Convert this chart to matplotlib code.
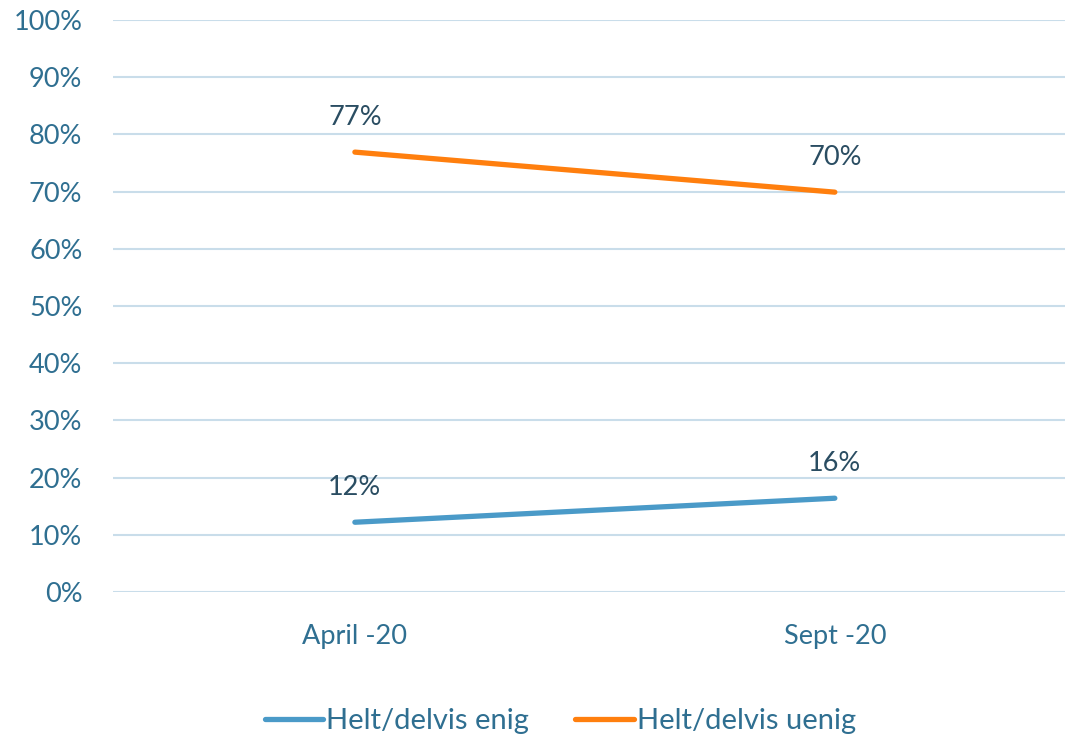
import matplotlib.pyplot as plt
from matplotlib.ticker import PercentFormatter

categories = ["April -20", "Sept -20"]
enig = [12.2, 16.4]
uenig = [76.9, 69.9]
enig_labels = ["12%", "16%"]
uenig_labels = ["77%", "70%"]

plt.rcParams['font.family'] = ['Lato', 'DejaVu Sans']

tick_col = "#2F6F91"
lab_col = "#2A4D62"

fig = plt.figure(figsize=(10.69, 7.37), dpi=100)
ax = fig.add_axes([0.1057, 0.1967, 0.8903, 0.7762])

x = list(range(len(categories)))
ax.plot(x, enig, color="#4A9AC8", lw=3.8, solid_capstyle="round", label="Helt/delvis enig")
ax.plot(x, uenig, color="#FF7F0E", lw=3.8, solid_capstyle="round", label="Helt/delvis uenig")

for xi, v, t in zip(x, enig, enig_labels):
    ax.annotate(t, (xi, v), xytext=(0, 25), textcoords="offset points",
                ha="center", va="center", fontsize=19.5, color=lab_col)
for xi, v, t in zip(x, uenig, uenig_labels):
    ax.annotate(t, (xi, v), xytext=(0, 25), textcoords="offset points",
                ha="center", va="center", fontsize=19.5, color=lab_col)

ax.set_xlim(-0.504, 1.479)
ax.set_ylim(0, 100)
ax.set_yticks(range(0, 101, 10))
ax.yaxis.set_major_formatter(PercentFormatter(decimals=0))
ax.set_xticks(x)
ax.set_xticklabels(categories)
ax.grid(axis="y", color="#C9DDEA", lw=1.5)
ax.set_axisbelow(True)
for s in ax.spines.values():
    s.set_visible(False)
ax.tick_params(length=0, labelsize=19.5, colors=tick_col)
ax.tick_params(axis="x", pad=23)
ax.tick_params(axis="y", pad=22)

leg = fig.legend(loc="center", bbox_to_anchor=(0.524, 0.022), ncol=2, frameon=False,
                 fontsize=21, handlelength=2.0, handletextpad=0.1, columnspacing=1.6)
for t in leg.get_texts():
    t.set_color(tick_col)

fig.savefig("out.png", dpi=100)
